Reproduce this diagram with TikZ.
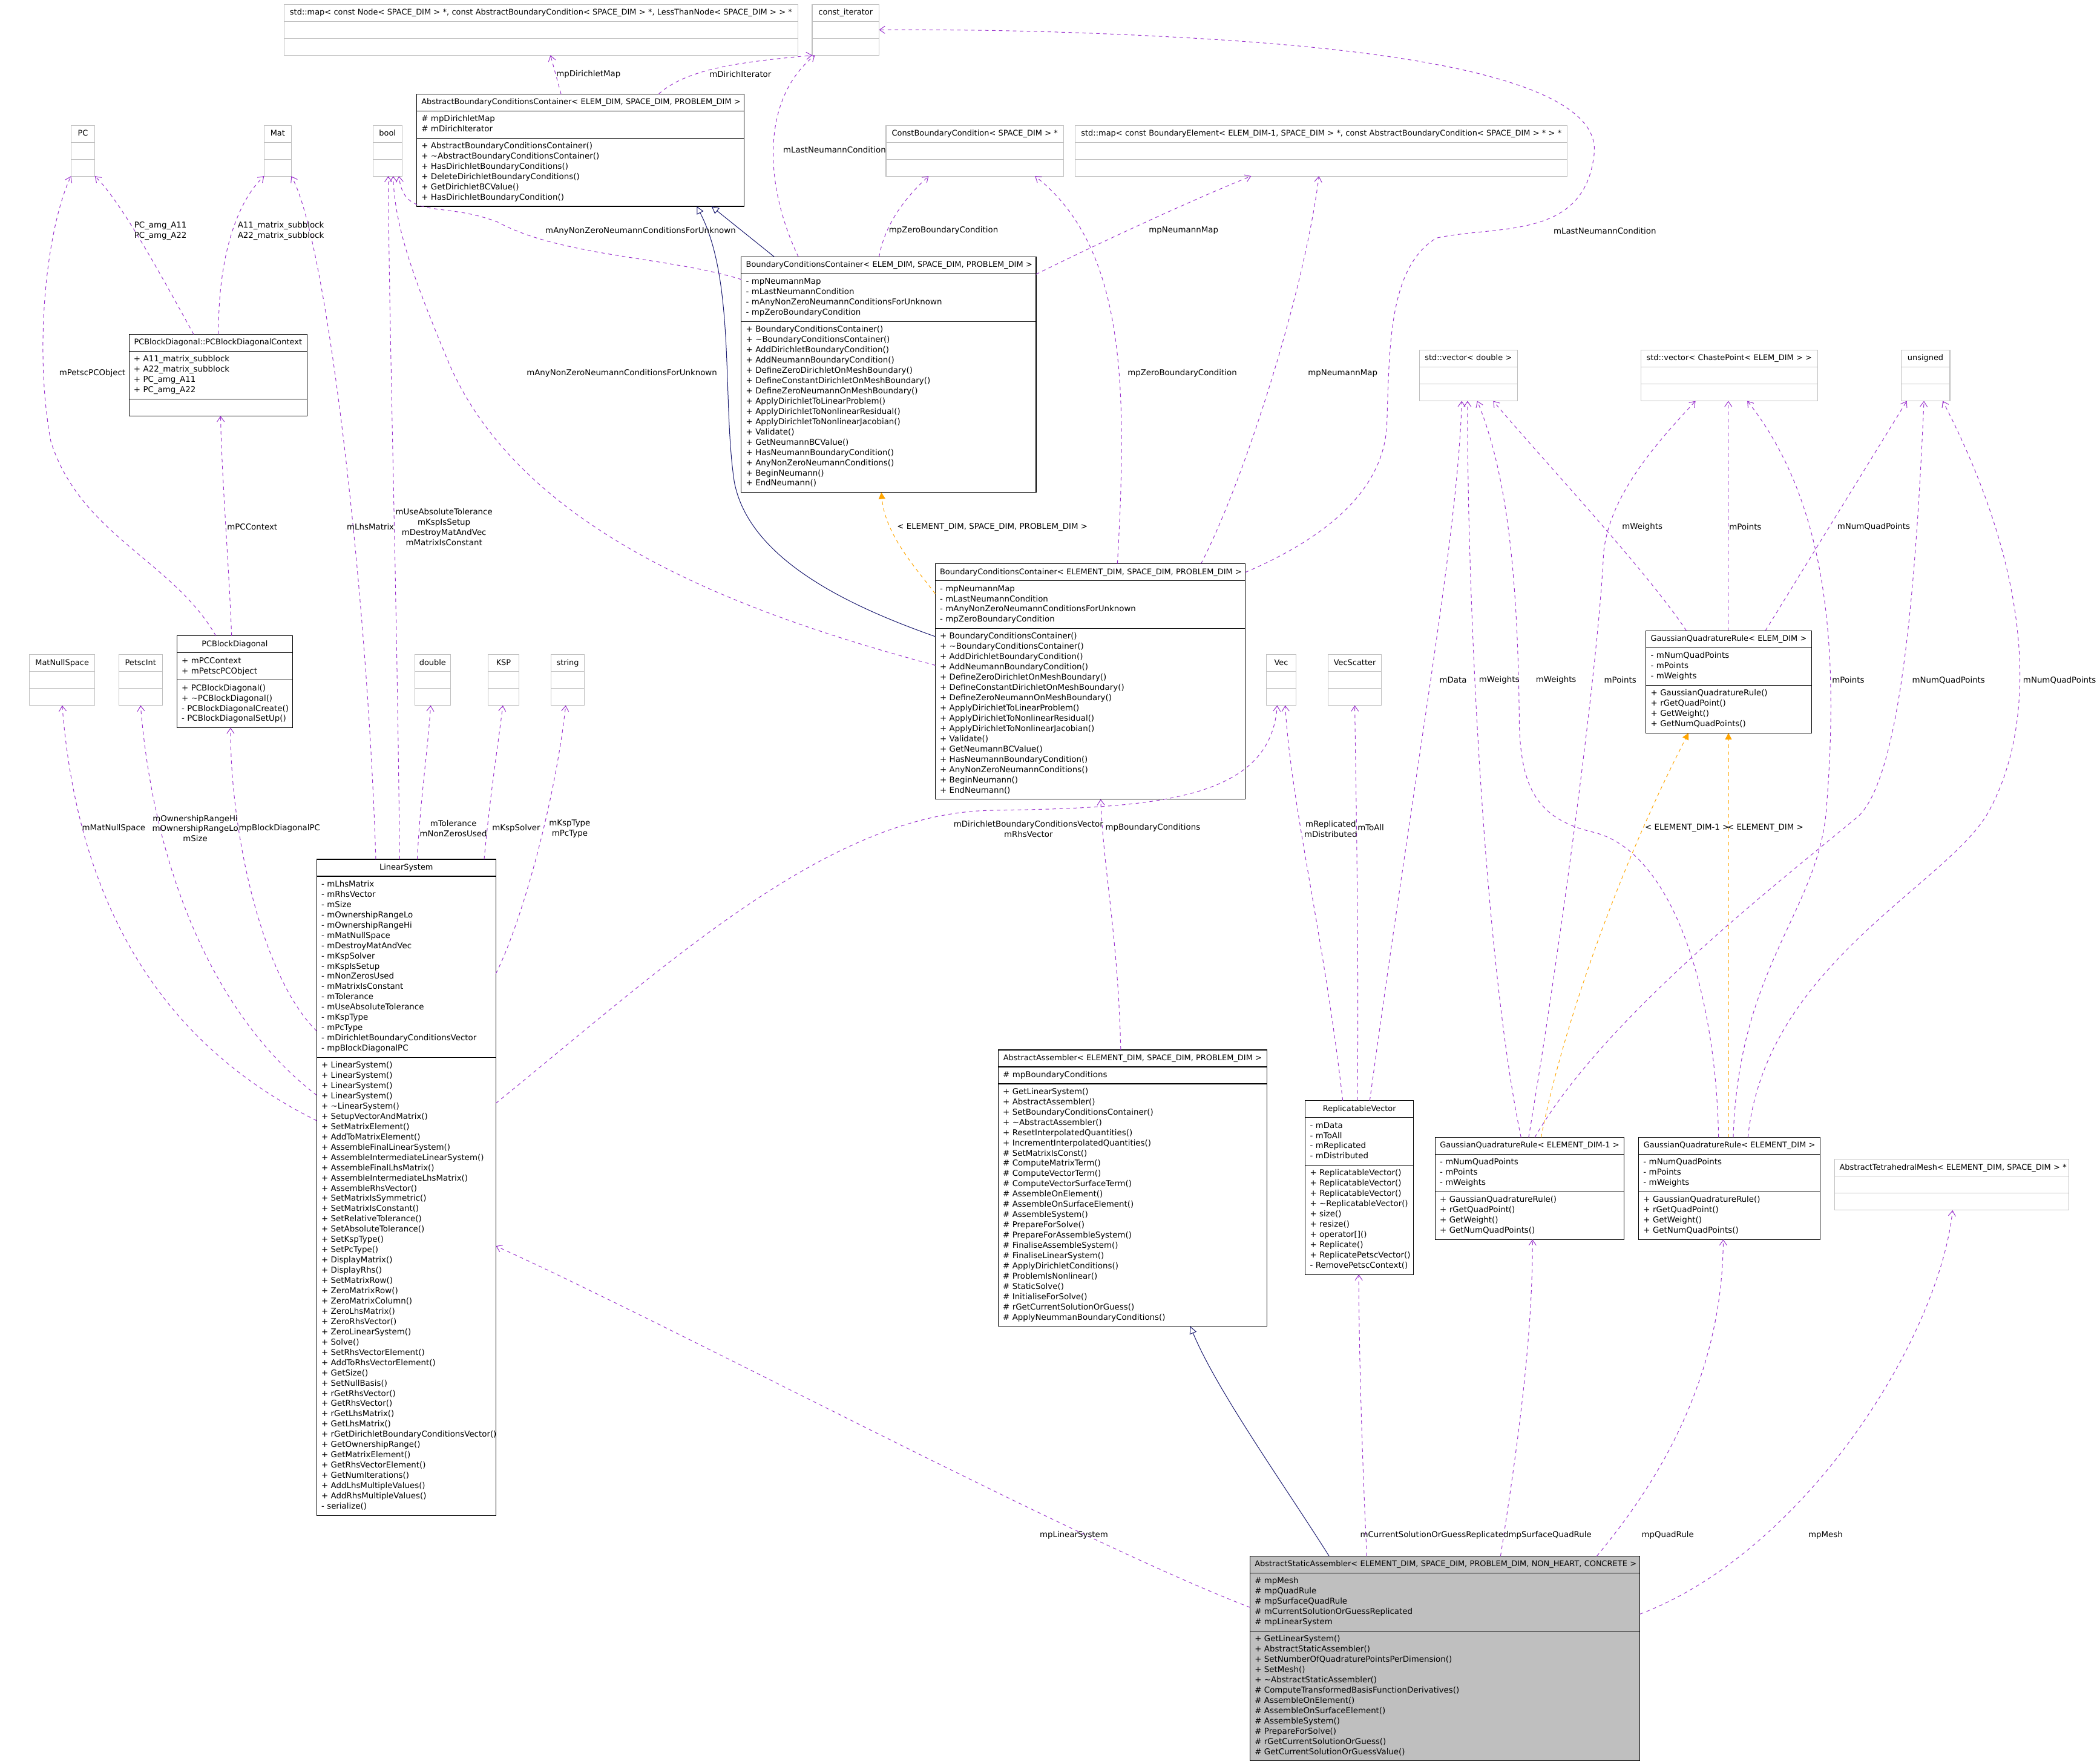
\documentclass[tikz,border=0pt]{standalone}
\usepackage{fontspec}
\setmainfont{DejaVu Sans}
\usetikzlibrary{arrows.meta,fit}

\definecolor{usecol}{HTML}{9A32CD}
\definecolor{tplcol}{HTML}{FFA500}
\definecolor{inhcol}{HTML}{191970}
\definecolor{extcol}{HTML}{BFBFBF}

\newcommand{\hdrfont}{\fontsize{5.85}{7.67}\selectfont}
\newcommand{\memfont}{\fontsize{6.05}{7.67}\selectfont}

\tikzset{
  box/.style={line width=0.5pt, inner xsep=3.5pt, inner ysep=2.5pt, outer sep=0pt,
    execute at begin node=\strut, execute at end node=\strut},
  cls/.style={box, draw=black},
  ext/.style={box, draw=extcol},
  cur/.style={box, draw=black, fill=extcol},
  hdr/.style={align=center, font=\hdrfont},
  mem/.style={align=left, font=\memfont,
    execute at begin node={\hyphenpenalty=10000\exhyphenpenalty=10000}},
  assoc/.style={draw=usecol, line width=0.45pt, dash pattern=on 2.6pt off 2.6pt,
    -{Straight Barb[length=4pt,width=5.5pt]}},
  tpl/.style={draw=tplcol, line width=0.45pt, dash pattern=on 2.6pt off 2.6pt,
    -{Triangle[length=5pt,width=5pt]}},
  inh/.style={draw=inhcol, line width=0.45pt, -{Triangle[open,length=5.5pt,width=5.5pt]}},
  lbl/.style={font=\memfont, align=center, inner sep=0pt},
}

% #1 名 #2 样式 #3 左上角 #4 宽 #5 类名 #6 属性 #7 方法
\newcommand{\umlclass}[7]{%
  \pgfmathsetmacro{\boxtw}{#4-7}%
  \node[#2,hdr,text width=\boxtw pt,anchor=north west] (#1-t) at #3 {\hbox to\hsize{\hfil#5\hss}};
  \node[#2,mem,text width=\boxtw pt,anchor=north west] (#1-a) at (#1-t.south west) {#6};
  \node[#2,mem,text width=\boxtw pt,anchor=north west] (#1-m) at (#1-a.south west) {#7};
  \node[fit=(#1-t)(#1-m),inner sep=0pt,outer sep=0pt] (#1) {};
}

\begin{document}
\begin{tikzpicture}[x=1pt, y=-1pt]

  %% ════ 外部类型（灰框）════
  \umlclass{mapN}{ext}{(212.5,3.3)}{384}{std::map< const Node< SPACE\_DIM > *, const AbstractBoundaryCondition< SPACE\_DIM > *, LessThanNode< SPACE\_DIM > > *}{}{}
  \umlclass{cit}{ext}{(607.3,3.3)}{50}{const\_iterator}{}{}
  \umlclass{pc}{ext}{(53.1,93.7)}{17.8}{PC}{}{}
  \umlclass{mat}{ext}{(197.5,93.7)}{20.3}{Mat}{}{}
  \umlclass{bool}{ext}{(278.9,93.7)}{21.6}{bool}{}{}
  \umlclass{cbc}{ext}{(662.5,93.7)}{132.8}{ConstBoundaryCondition< SPACE\_DIM > *}{}{}
  \umlclass{mapBE}{ext}{(804,93.7)}{368}{std::map< const BoundaryElement< ELEM\_DIM-1, SPACE\_DIM > *, const AbstractBoundaryCondition< SPACE\_DIM > * > *}{}{}
  \umlclass{vecd}{ext}{(1061.2,261.8)}{73.5}{std::vector< double >}{}{}
  \umlclass{veccp}{ext}{(1227,261.8)}{132}{std::vector< ChastePoint< ELEM\_DIM > >}{}{}
  \umlclass{uns}{ext}{(1421.4,261.8)}{36.6}{unsigned}{}{}
  \umlclass{mns}{ext}{(22,489.5)}{48.9}{MatNullSpace}{}{}
  \umlclass{petsc}{ext}{(88.8,489.5)}{32.6}{PetscInt}{}{}
  \umlclass{dbl}{ext}{(310,489.5)}{27}{double}{}{}
  \umlclass{ksp}{ext}{(365,489.5)}{23}{KSP}{}{}
  \umlclass{str}{ext}{(412,489.5)}{25}{string}{}{}
  \umlclass{vec}{ext}{(947,489.5)}{22}{Vec}{}{}
  \umlclass{vecsc}{ext}{(993,489.5)}{40}{VecScatter}{}{}
  \umlclass{mesh}{ext}{(1372,867)}{175}{AbstractTetrahedralMesh< ELEMENT\_DIM, SPACE\_DIM > *}{}{}

  %% ════ 类框 ════
  \umlclass{abcc}{cls}{(311.6,70.3)}{244.7}{AbstractBoundaryConditionsContainer< ELEM\_DIM, SPACE\_DIM, PROBLEM\_DIM >}
    {\#~mpDirichletMap\\\#~mDirichIterator}
    {+~AbstractBoundaryConditionsContainer()\\+~\textasciitilde AbstractBoundaryConditionsContainer()\\+~HasDirichletBoundaryConditions()\\+~DeleteDirichletBoundaryConditions()\\+~GetDirichletBCValue()\\+~HasDirichletBoundaryCondition()}
  \umlclass{bccA}{cls}{(554.3,192.1)}{220.4}{BoundaryConditionsContainer< ELEM\_DIM, SPACE\_DIM, PROBLEM\_DIM >}
    {-~mpNeumannMap\\-~mLastNeumannCondition\\-~mAnyNonZeroNeumannConditionsForUnknown\\-~mpZeroBoundaryCondition}
    {+~BoundaryConditionsContainer()\\+~\textasciitilde BoundaryConditionsContainer()\\+~AddDirichletBoundaryCondition()\\+~AddNeumannBoundaryCondition()\\+~DefineZeroDirichletOnMeshBoundary()\\+~DefineConstantDirichletOnMeshBoundary()\\+~DefineZeroNeumannOnMeshBoundary()\\+~ApplyDirichletToLinearProblem()\\+~ApplyDirichletToNonlinearResidual()\\+~ApplyDirichletToNonlinearJacobian()\\+~Validate()\\+~GetNeumannBCValue()\\+~HasNeumannBoundaryCondition()\\+~AnyNonZeroNeumannConditions()\\+~BeginNeumann()\\+~EndNeumann()}
  \umlclass{bccB}{cls}{(699.3,421.6)}{231.8}{BoundaryConditionsContainer< ELEMENT\_DIM, SPACE\_DIM, PROBLEM\_DIM >}
    {-~mpNeumannMap\\-~mLastNeumannCondition\\-~mAnyNonZeroNeumannConditionsForUnknown\\-~mpZeroBoundaryCondition}
    {+~BoundaryConditionsContainer()\\+~\textasciitilde BoundaryConditionsContainer()\\+~AddDirichletBoundaryCondition()\\+~AddNeumannBoundaryCondition()\\+~DefineZeroDirichletOnMeshBoundary()\\+~DefineConstantDirichletOnMeshBoundary()\\+~DefineZeroNeumannOnMeshBoundary()\\+~ApplyDirichletToLinearProblem()\\+~ApplyDirichletToNonlinearResidual()\\+~ApplyDirichletToNonlinearJacobian()\\+~Validate()\\+~GetNeumannBCValue()\\+~HasNeumannBoundaryCondition()\\+~AnyNonZeroNeumannConditions()\\+~BeginNeumann()\\+~EndNeumann()}
  \umlclass{ctx}{cls}{(96.5,250)}{133.1}{PCBlockDiagonal::PCBlockDiagonalContext}
    {+~A11\_matrix\_subblock\\+~A22\_matrix\_subblock\\+~PC\_amg\_A11\\+~PC\_amg\_A22}{}
  \umlclass{pcbd}{cls}{(132.3,475.5)}{86.4}{PCBlockDiagonal}
    {+~mPCContext\\+~mPetscPCObject}
    {+~PCBlockDiagonal()\\+~\textasciitilde PCBlockDiagonal()\\-~PCBlockDiagonalCreate()\\-~PCBlockDiagonalSetUp()}
  \umlclass{ls}{cls}{(236.8,642.6)}{134}{LinearSystem}
    {-~mLhsMatrix\\-~mRhsVector\\-~mSize\\-~mOwnershipRangeLo\\-~mOwnershipRangeHi\\-~mMatNullSpace\\-~mDestroyMatAndVec\\-~mKspSolver\\-~mKspIsSetup\\-~mNonZerosUsed\\-~mMatrixIsConstant\\-~mTolerance\\-~mUseAbsoluteTolerance\\-~mKspType\\-~mPcType\\-~mDirichletBoundaryConditionsVector\\-~mpBlockDiagonalPC}
    {+~LinearSystem()\\+~LinearSystem()\\+~LinearSystem()\\+~LinearSystem()\\+~\textasciitilde LinearSystem()\\+~SetupVectorAndMatrix()\\+~SetMatrixElement()\\+~AddToMatrixElement()\\+~AssembleFinalLinearSystem()\\+~AssembleIntermediateLinearSystem()\\+~AssembleFinalLhsMatrix()\\+~AssembleIntermediateLhsMatrix()\\+~AssembleRhsVector()\\+~SetMatrixIsSymmetric()\\+~SetMatrixIsConstant()\\+~SetRelativeTolerance()\\+~SetAbsoluteTolerance()\\+~SetKspType()\\+~SetPcType()\\+~DisplayMatrix()\\+~DisplayRhs()\\+~SetMatrixRow()\\+~ZeroMatrixRow()\\+~ZeroMatrixColumn()\\+~ZeroLhsMatrix()\\+~ZeroRhsVector()\\+~ZeroLinearSystem()\\+~Solve()\\+~SetRhsVectorElement()\\+~AddToRhsVectorElement()\\+~GetSize()\\+~SetNullBasis()\\+~rGetRhsVector()\\+~GetRhsVector()\\+~rGetLhsMatrix()\\+~GetLhsMatrix()\\+~rGetDirichletBoundaryConditionsVector()\\+~GetOwnershipRange()\\+~GetMatrixElement()\\+~GetRhsVectorElement()\\+~GetNumIterations()\\+~AddLhsMultipleValues()\\+~AddRhsMultipleValues()\\-~serialize()}
  \umlclass{aa}{cls}{(746.4,785.1)}{200.9}{AbstractAssembler< ELEMENT\_DIM, SPACE\_DIM, PROBLEM\_DIM >}
    {\#~mpBoundaryConditions}
    {+~GetLinearSystem()\\+~AbstractAssembler()\\+~SetBoundaryConditionsContainer()\\+~\textasciitilde AbstractAssembler()\\+~ResetInterpolatedQuantities()\\+~IncrementInterpolatedQuantities()\\\#~SetMatrixIsConst()\\\#~ComputeMatrixTerm()\\\#~ComputeVectorTerm()\\\#~ComputeVectorSurfaceTerm()\\\#~AssembleOnElement()\\\#~AssembleOnSurfaceElement()\\\#~AssembleSystem()\\\#~PrepareForSolve()\\\#~PrepareForAssembleSystem()\\\#~FinaliseAssembleSystem()\\\#~FinaliseLinearSystem()\\\#~ApplyDirichletConditions()\\\#~ProblemIsNonlinear()\\\#~StaticSolve()\\\#~InitialiseForSolve()\\\#~rGetCurrentSolutionOrGuess()\\\#~ApplyNeummanBoundaryConditions()}
  \umlclass{rv}{cls}{(976,823)}{81}{ReplicatableVector}
    {-~mData\\-~mToAll\\-~mReplicated\\-~mDistributed}
    {+~ReplicatableVector()\\+~ReplicatableVector()\\+~ReplicatableVector()\\+~\textasciitilde ReplicatableVector()\\+~size()\\+~resize()\\+~operator[]()\\+~Replicate()\\+~ReplicatePetscVector()\\-~RemovePetscContext()}
  \umlclass{gqre}{cls}{(1230.8,471.7)}{123.7}{GaussianQuadratureRule< ELEM\_DIM >}
    {-~mNumQuadPoints\\-~mPoints\\-~mWeights}
    {+~GaussianQuadratureRule()\\+~rGetQuadPoint()\\+~GetWeight()\\+~GetNumQuadPoints()}
  \umlclass{gqr1}{cls}{(1073.1,850.5)}{141.3}{GaussianQuadratureRule< ELEMENT\_DIM-1 >}
    {-~mNumQuadPoints\\-~mPoints\\-~mWeights}
    {+~GaussianQuadratureRule()\\+~rGetQuadPoint()\\+~GetWeight()\\+~GetNumQuadPoints()}
  \umlclass{gqr}{cls}{(1225.3,850.5)}{135.7}{GaussianQuadratureRule< ELEMENT\_DIM >}
    {-~mNumQuadPoints\\-~mPoints\\-~mWeights}
    {+~GaussianQuadratureRule()\\+~rGetQuadPoint()\\+~GetWeight()\\+~GetNumQuadPoints()}
  \umlclass{asa}{cur}{(934.7,1163.6)}{291.5}{AbstractStaticAssembler< ELEMENT\_DIM, SPACE\_DIM, PROBLEM\_DIM, NON\_HEART, CONCRETE >}
    {\#~mpMesh\\\#~mpQuadRule\\\#~mpSurfaceQuadRule\\\#~mCurrentSolutionOrGuessReplicated\\\#~mpLinearSystem}
    {+~GetLinearSystem()\\+~AbstractStaticAssembler()\\+~SetNumberOfQuadraturePointsPerDimension()\\+~SetMesh()\\+~\textasciitilde AbstractStaticAssembler()\\\#~ComputeTransformedBasisFunctionDerivatives()\\\#~AssembleOnElement()\\\#~AssembleOnSurfaceElement()\\\#~AssembleSystem()\\\#~PrepareForSolve()\\\#~rGetCurrentSolutionOrGuess()\\\#~GetCurrentSolutionOrGuessValue()}

  %% ════ 继承（深蓝实线，空心三角）════
  \draw[inh] ([xshift=24.7pt]bccA.north west) -- ([xshift=220.4pt]abcc.south west);
  \draw[inh] ([yshift=-54.4pt]bccB.north west) .. controls (640,455) and (560,420) .. (549,360)
     .. controls (540,300) and (550,210) .. ([xshift=209.4pt]abcc.south west);
  \draw[inh] ([xshift=59.1pt]asa.north west) .. controls (960,1110) and (910,1040) .. ([xshift=143.6pt]aa.south west);

  %% ════ 模板实例（橙色虚线）════
  \draw[tpl] ([yshift=-22.4pt]bccB.north west) .. controls (685,425) and (662,400) .. ([xshift=104.7pt]bccA.south west);
  \draw[tpl] ([xshift=79.2pt]gqr1.north west) .. controls (1170,760) and (1215,640) .. ([xshift=31.8pt]gqre.south west);
  \draw[tpl] ([xshift=67.1pt]gqr.north west) -- ([xshift=61.6pt]gqre.south west);

  %% ════ 成员关联（紫色虚线）════
  \draw[assoc] ([xshift=107.9pt]abcc.north west) -- ([xshift=199.1pt]mapN.south west);
  \draw[assoc] ([xshift=180.9pt]abcc.north west) .. controls (515,50) and (560,46) .. (cit.south west);
  \draw[assoc] ([xshift=42.7pt]bccA.north west) .. controls (572,140) and (568,75) .. ([xshift=2pt]cit.south west);
  \draw[assoc] ([yshift=-6.4pt]bccB.north east) .. controls (985,405) and (1035,370) .. (1037,317)
     .. controls (1039,260) and (1038,200) .. (1074,178)
     .. controls (1120,168) and (1185,180) .. (1192,115)
     .. controls (1198,60) and (1050,38) .. (900,29)
     .. controls (800,23) and (720,22) .. (cit.east);
  \draw[assoc] ([xshift=136.2pt]bccB.north west) .. controls (843,290) and (842,185) .. ([xshift=111.4pt]cbc.south west);
  \draw[assoc] ([xshift=198.7pt]bccB.north west) .. controls (930,360) and (975,220) .. ([xshift=182.2pt]mapBE.south west);
  \draw[assoc] ([xshift=103pt]bccA.north west) .. controls (662,165) and (680,145) .. ([xshift=31.8pt]cbc.south west);
  \draw[assoc] ([yshift=-13pt]bccA.north east) .. controls (815,185) and (890,150) .. ([xshift=131.5pt]mapBE.south west);
  \draw[assoc] ([yshift=-16.9pt]bccA.north west) .. controls (500,192) and (420,192) .. (372,166)
     .. controls (330,150) and (302,165) .. ([xshift=19.4pt]bool.south west);
  \draw[assoc] ([yshift=-75.9pt]bccB.north west) .. controls (560,460) and (390,400) .. (335,270)
     .. controls (310,210) and (295,170) .. ([xshift=15.1pt]bool.south west);
  \draw[assoc] ([xshift=48.3pt]ctx.north west) .. controls (120,205) and (90,150) .. (pc.south east);
  \draw[assoc] ([xshift=66.9pt]ctx.north west) .. controls (163,190) and (178,150) .. (mat.south west);
  \draw[assoc] ([xshift=40.9pt]pcbd.north west) .. controls (171,420) and (166,360) .. ([xshift=68.4pt]ctx.south west);
  \draw[assoc] ([xshift=29.1pt]pcbd.north west) .. controls (130,420) and (60,400) .. (38,330)
     .. controls (25,260) and (35,170) .. (pc.south west);
  \draw[assoc] ([xshift=44.2pt]ls.north west) .. controls (275,450) and (245,180) .. (mat.south east);
  \draw[assoc] ([xshift=62pt]ls.north west) .. controls (297,450) and (291,250) .. ([xshift=11.4pt]bool.south west);
  \draw[assoc] ([xshift=75.2pt]ls.north west) .. controls (314,600) and (320,560) .. ([xshift=12pt]dbl.south west);
  \draw[assoc] ([xshift=125.2pt]ls.north west) .. controls (367,590) and (372,560) .. ([xshift=11pt]ksp.south west);
  \draw[assoc] ([yshift=-85.4pt]ls.north east) .. controls (390,690) and (415,600) .. ([xshift=11pt]str.south west);
  \draw[assoc] ([yshift=-195.4pt]ls.north west) .. controls (140,790) and (60,700) .. ([xshift=24.5pt]mns.south west);
  \draw[assoc] ([yshift=-176.4pt]ls.north west) .. controls (160,760) and (115,650) .. (petsc.south);
  \draw[assoc] ([yshift=-128.4pt]ls.north west) .. controls (195,730) and (172,620) .. ([xshift=40.1pt]pcbd.south west);
  \draw[assoc] ([yshift=-182.4pt]ls.north east) .. controls (500,720) and (620,608) .. (741,606)
     .. controls (860,604) and (950,600) .. ([xshift=8pt]vec.south west);
  \draw[assoc] ([xshift=91.6pt]aa.north west) .. controls (836,700) and (825,650) .. ([xshift=123.7pt]bccB.south west);
  \draw[assoc] ([xshift=28pt]rv.north west) .. controls (990,700) and (965,600) .. ([xshift=14pt]vec.south west);
  \draw[assoc] ([xshift=39pt]rv.north west) .. controls (1016,700) and (1014,600) .. (vecsc.south);
  \draw[assoc] ([xshift=48.2pt]rv.north west) .. controls (1060,560) and (1090,400) .. ([xshift=31.8pt]vecd.south west);
  \draw[assoc] ([xshift=30.2pt]gqre.north west) .. controls (1230,425) and (1150,340) .. ([xshift=55.3pt]vecd.south west);
  \draw[assoc] ([xshift=61.5pt]gqre.north west) -- ([xshift=65.3pt]veccp.south west);
  \draw[assoc] ([xshift=89.2pt]gqre.north west) -- ([xshift=4.4pt]uns.south west);
  \draw[assoc] ([xshift=64.2pt]gqr1.north west) .. controls (1110,720) and (1097,450) .. ([xshift=36.1pt]vecd.south west);
  \draw[assoc] ([xshift=69.9pt]gqr1.north west) .. controls (1165,720) and (1195,500) .. (1199,414)
     .. controls (1203,370) and (1240,330) .. ([xshift=40.8pt]veccp.south west);
  \draw[assoc] ([xshift=74.5pt]gqr1.north west) .. controls (1200,760) and (1330,660) .. (1390,610)
     .. controls (1420,580) and (1432,450) .. ([xshift=17.2pt]uns.south west);
  \draw[assoc] ([xshift=59.7pt]gqr.north west) .. controls (1283,740) and (1250,635) .. (1190,622)
     .. controls (1150,612) and (1137,590) .. (1136,540)
     .. controls (1135,420) and (1125,350) .. ([xshift=43.4pt]vecd.south west);
  \draw[assoc] ([xshift=70.7pt]gqr.north west) .. controls (1300,720) and (1362,680) .. (1366,600)
     .. controls (1376,470) and (1362,370) .. ([xshift=79.5pt]veccp.south west);
  \draw[assoc] ([xshift=81.7pt]gqr.north west) .. controls (1320,720) and (1460,660) .. (1488,605)
     .. controls (1520,545) and (1525,440) .. ([xshift=31.2pt]uns.south west);
  \draw[assoc] ([yshift=-38.4pt]asa.north west) .. controls (800,1150) and (500,990) .. ([yshift=-289.2pt]ls.north east);
  \draw[assoc] ([xshift=87.3pt]asa.north west) .. controls (1018,1080) and (1016,1000) .. ([xshift=40pt]rv.south west);
  \draw[assoc] ([xshift=187.3pt]asa.north west) .. controls (1135,1080) and (1146,1000) .. ([xshift=72.8pt]gqr1.south west);
  \draw[assoc] ([xshift=259.3pt]asa.north west) .. controls (1230,1120) and (1288,1040) .. ([xshift=63.2pt]gqr.south west);
  \draw[assoc] ([yshift=-43.4pt]asa.north east) .. controls (1350,1160) and (1450,1000) .. ([xshift=88pt]mesh.south west);

  %% ════ 连线标签 ════
  \node[lbl] (l-dmap) at (440,55.5) {mpDirichletMap};
  \node[lbl] (l-diter) at (553.6,55.5) {mDirichIterator};
  \node[lbl] (l-lastA) at (624,112) {mLastNeumannCondition};
  \node[lbl] (l-anyA) at (479,173) {mAnyNonZeroNeumannConditionsForUnknown};
  \node[lbl] (l-zeroA) at (705.5,172.5) {mpZeroBoundaryCondition};
  \node[lbl] (l-nmapA) at (885,172.5) {mpNeumannMap};
  \node[lbl] (l-lastB) at (1200,172.5) {mLastNeumannCondition};
  \node[lbl] (l-amg) at (120,172.7) {PC\_amg\_A11\\PC\_amg\_A22};
  \node[lbl] (l-sub) at (210,172.7) {A11\_matrix\_subblock\\A22\_matrix\_subblock};
  \node[lbl] (l-petscpc) at (69,279) {mPetscPCObject};
  \node[lbl] (l-anyB) at (465,279) {mAnyNonZeroNeumannConditionsForUnknown};
  \node[lbl] (l-zeroB) at (884,279) {mpZeroBoundaryCondition};
  \node[lbl] (l-nmapB) at (1004,279) {mpNeumannMap};
  \node[lbl] (l-pcctx) at (188.6,394) {mPCContext};
  \node[lbl] (l-lhs) at (277,394) {mLhsMatrix};
  \node[lbl] (l-flags) at (332,394) {mUseAbsoluteTolerance\\mKspIsSetup\\mDestroyMatAndVec\\mMatrixIsConstant};
  \node[lbl] (l-tplA) at (742,394) {< ELEMENT\_DIM, SPACE\_DIM, PROBLEM\_DIM >};
  \node[lbl] (l-wE) at (1228,394) {mWeights};
  \node[lbl] (l-pE) at (1305,394) {mPoints};
  \node[lbl] (l-nE) at (1401,394) {mNumQuadPoints};
  \node[lbl] (l-data) at (1086.5,508.6) {mData};
  \node[lbl] (l-w1) at (1121,508.6) {mWeights};
  \node[lbl] (l-w0) at (1163.5,508.6) {mWeights};
  \node[lbl] (l-p1) at (1211.5,508.6) {mPoints};
  \node[lbl] (l-p0) at (1382,508.6) {mPoints};
  \node[lbl] (l-n1) at (1457,508.6) {mNumQuadPoints};
  \node[lbl] (l-n0) at (1540,508.6) {mNumQuadPoints};
  \node[lbl] (l-null) at (85,619.5) {mMatNullSpace};
  \node[lbl] (l-own) at (146,619.5) {mOwnershipRangeHi\\mOwnershipRangeLo\\mSize};
  \node[lbl] (l-bdpc) at (209,619.5) {mpBlockDiagonalPC};
  \node[lbl] (l-tol) at (339,619.7) {mTolerance\\mNonZerosUsed};
  \node[lbl] (l-ksp) at (386,619.5) {mKspSolver};
  \node[lbl] (l-ktype) at (426,619.7) {mKspType\\mPcType};
  \node[lbl] (l-dbc) at (769,620) {mDirichletBoundaryConditionsVector\\mRhsVector};
  \node[lbl] (l-bc) at (862,619) {mpBoundaryConditions};
  \node[lbl] (l-repl) at (995,620) {mReplicated\\mDistributed};
  \node[lbl] (l-toall) at (1025,619) {mToAll};
  \node[lbl] (l-tpl1) at (1261.5,619.3) {< ELEMENT\_DIM-1 >};
  \node[lbl] (l-tpl0) at (1320,619.3) {< ELEMENT\_DIM >};
  \node[lbl] (l-lsys) at (803,1148) {mpLinearSystem};
  \node[lbl] (l-cur) at (1072.5,1148) {mCurrentSolutionOrGuessReplicated};
  \node[lbl] (l-sqr) at (1159,1148) {mpSurfaceQuadRule};
  \node[lbl] (l-qr) at (1247,1148) {mpQuadRule};
  \node[lbl] (l-mesh) at (1365,1148) {mpMesh};

  % 钉死画布
  \pgfresetboundingbox
  \path[use as bounding box] (0,0) rectangle (1568,1319);
\end{tikzpicture}
\end{document}
